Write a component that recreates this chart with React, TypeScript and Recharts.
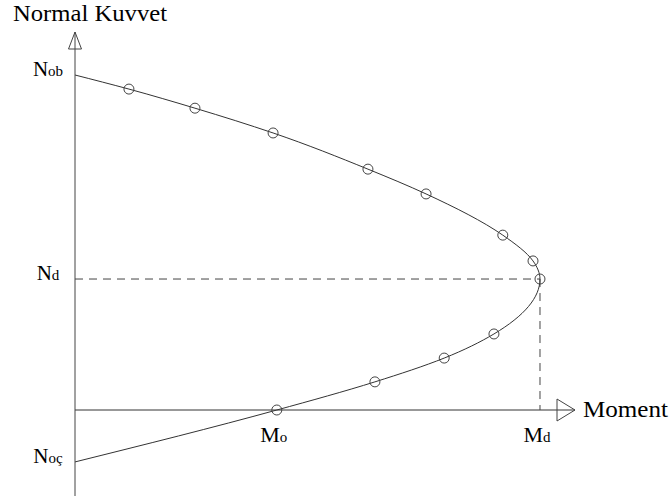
import React from 'react';
import {
  ComposedChart,
  Line,
  XAxis,
  YAxis,
  ReferenceLine,
  ReferenceDot,
  Label,
} from 'recharts';

// Interaction diagram: moment capacity (x) versus normal force (y).
const momentValues = [0, 11.6, 25.8, 42.6, 63.0, 75.5, 92.0, 98.5, 100, 90.1, 79.4, 64.5, 43.4, 0];
const normalValues = [100, 95.8, 90.1, 82.7, 71.9, 64.5, 52.2, 44.5, 39.1, 22.7, 15.5, 8.4, 0, -15.5];
const markedPoints = [false, true, true, true, true, true, true, true, true, true, true, true, true, false];

// Characteristic values shown on the axes
const normalTickValues = [100, 39.1, -15.5];
const normalTickSubs = ['ob', 'd', 'oç'];
const momentTickValues = [43.4, 100];
const momentTickSubs = ['o', 'd'];

const balancedMoment = 100;
const balancedNormal = 39.1;

const X_MAX = 107.53;
const Y_MIN = -25.67;
const Y_MAX = 112.84;

const FONT = "'Liberation Serif', 'Times New Roman', Times, serif";
const INK = '#000';
const LINE = '#444';
const textStyle = { fontFamily: FONT };

const data = momentValues.map((m, i) => ({ m, n: normalValues[i], marked: markedPoints[i] }));

const NormalTick = (props: any) => {
  const { x, y, payload } = props;
  const idx = normalTickValues.indexOf(payload.value);
  return (
    <text x={x} y={y + 1} textAnchor="middle" style={textStyle} fill={INK}>
      <tspan fontSize={21}>N</tspan>
      <tspan fontSize={15}>{normalTickSubs[idx]}</tspan>
    </text>
  );
};

const MomentTick = (sub: string) => (props: any) => {
  const { cx, cy } = props;
  return (
    <text x={cx - 3} y={cy + 32} textAnchor="middle" style={textStyle} fill={INK}>
      <tspan fontSize={22}>M</tspan>
      <tspan fontSize={15}>{sub}</tspan>
    </text>
  );
};

const UpArrow = (props: any) => {
  const { cx, cy } = props;
  return (
    <path
      d={`M${cx},${cy} L${cx - 6.5},${cy + 17} L${cx + 6.5},${cy + 17} Z`}
      fill="none"
      stroke={LINE}
      strokeWidth={1}
    />
  );
};

const RightArrow = (props: any) => {
  const { cx, cy } = props;
  return (
    <g>
      <path
        d={`M${cx},${cy} L${cx - 18},${cy - 11} L${cx - 18},${cy + 11} Z`}
        fill="none"
        stroke={LINE}
        strokeWidth={1}
      />
      <text
        x={cx + 8}
        y={cy + 7}
        style={textStyle}
        fontSize={24}
        fill={INK}
        textLength={85}
        lengthAdjust="spacingAndGlyphs"
      >
        Moment
      </text>
    </g>
  );
};

const PointDot = (props: any) => {
  const { cx, cy, payload, index } = props;
  if (!payload || !payload.marked) return <g key={`d-${index}`} />;
  return <circle key={`d-${index}`} cx={cx} cy={cy} r={5} fill="none" stroke={LINE} strokeWidth={1} />;
};

const AxisTitle = (p: any) => (
  <text
    x={p.viewBox.x + 13}
    y={p.viewBox.y - 11}
    style={textStyle}
    fontSize={24}
    fill={INK}
    textLength={154}
    lengthAdjust="spacingAndGlyphs"
  >
    Normal Kuvvet
  </text>
);

export default function App() {
  return (
    <div
      style={{
        position: 'absolute',
        left: 0,
        top: 0,
        width: 670,
        height: 502,
        background: '#fff',
        fontFamily: FONT,
      }}
    >
      <ComposedChart
        width={670}
        height={502}
        data={data}
        margin={{ top: 32, right: 95, bottom: 6, left: 0 }}
        style={textStyle}
      >
        <XAxis type="number" dataKey="m" domain={[0, X_MAX]} allowDataOverflow hide />
        <YAxis
          type="number"
          domain={[Y_MIN, Y_MAX]}
          allowDataOverflow
          width={75}
          ticks={normalTickValues}
          interval={0}
          tick={<NormalTick />}
          tickLine={false}
          tickSize={0}
          tickMargin={27}
          axisLine={{ stroke: LINE, strokeWidth: 1 }}
          label={<Label content={AxisTitle} />}
        />
        <ReferenceLine y={0} stroke="#333" strokeWidth={1} />
        <ReferenceLine
          segment={[
            { x: 0, y: balancedNormal },
            { x: balancedMoment, y: balancedNormal },
          ]}
          stroke={LINE}
          strokeDasharray="8 6"
        />
        <ReferenceLine
          segment={[
            { x: balancedMoment, y: balancedNormal },
            { x: balancedMoment, y: 0 },
          ]}
          stroke={LINE}
          strokeDasharray="8 6"
        />
        <ReferenceDot x={0} y={Y_MAX} r={0} ifOverflow="visible" shape={UpArrow} />
        <ReferenceDot x={X_MAX} y={0} r={0} ifOverflow="visible" shape={RightArrow} />
        {momentTickValues.map((v, i) => (
          <ReferenceDot key={`mt-${i}`} x={v} y={0} r={0} ifOverflow="visible" shape={MomentTick(momentTickSubs[i])} />
        ))}
        <Line
          type="monotoneY"
          dataKey="n"
          stroke="#333"
          strokeWidth={1}
          dot={PointDot}
          activeDot={false}
          isAnimationActive={false}
        />
      </ComposedChart>
    </div>
  );
}
